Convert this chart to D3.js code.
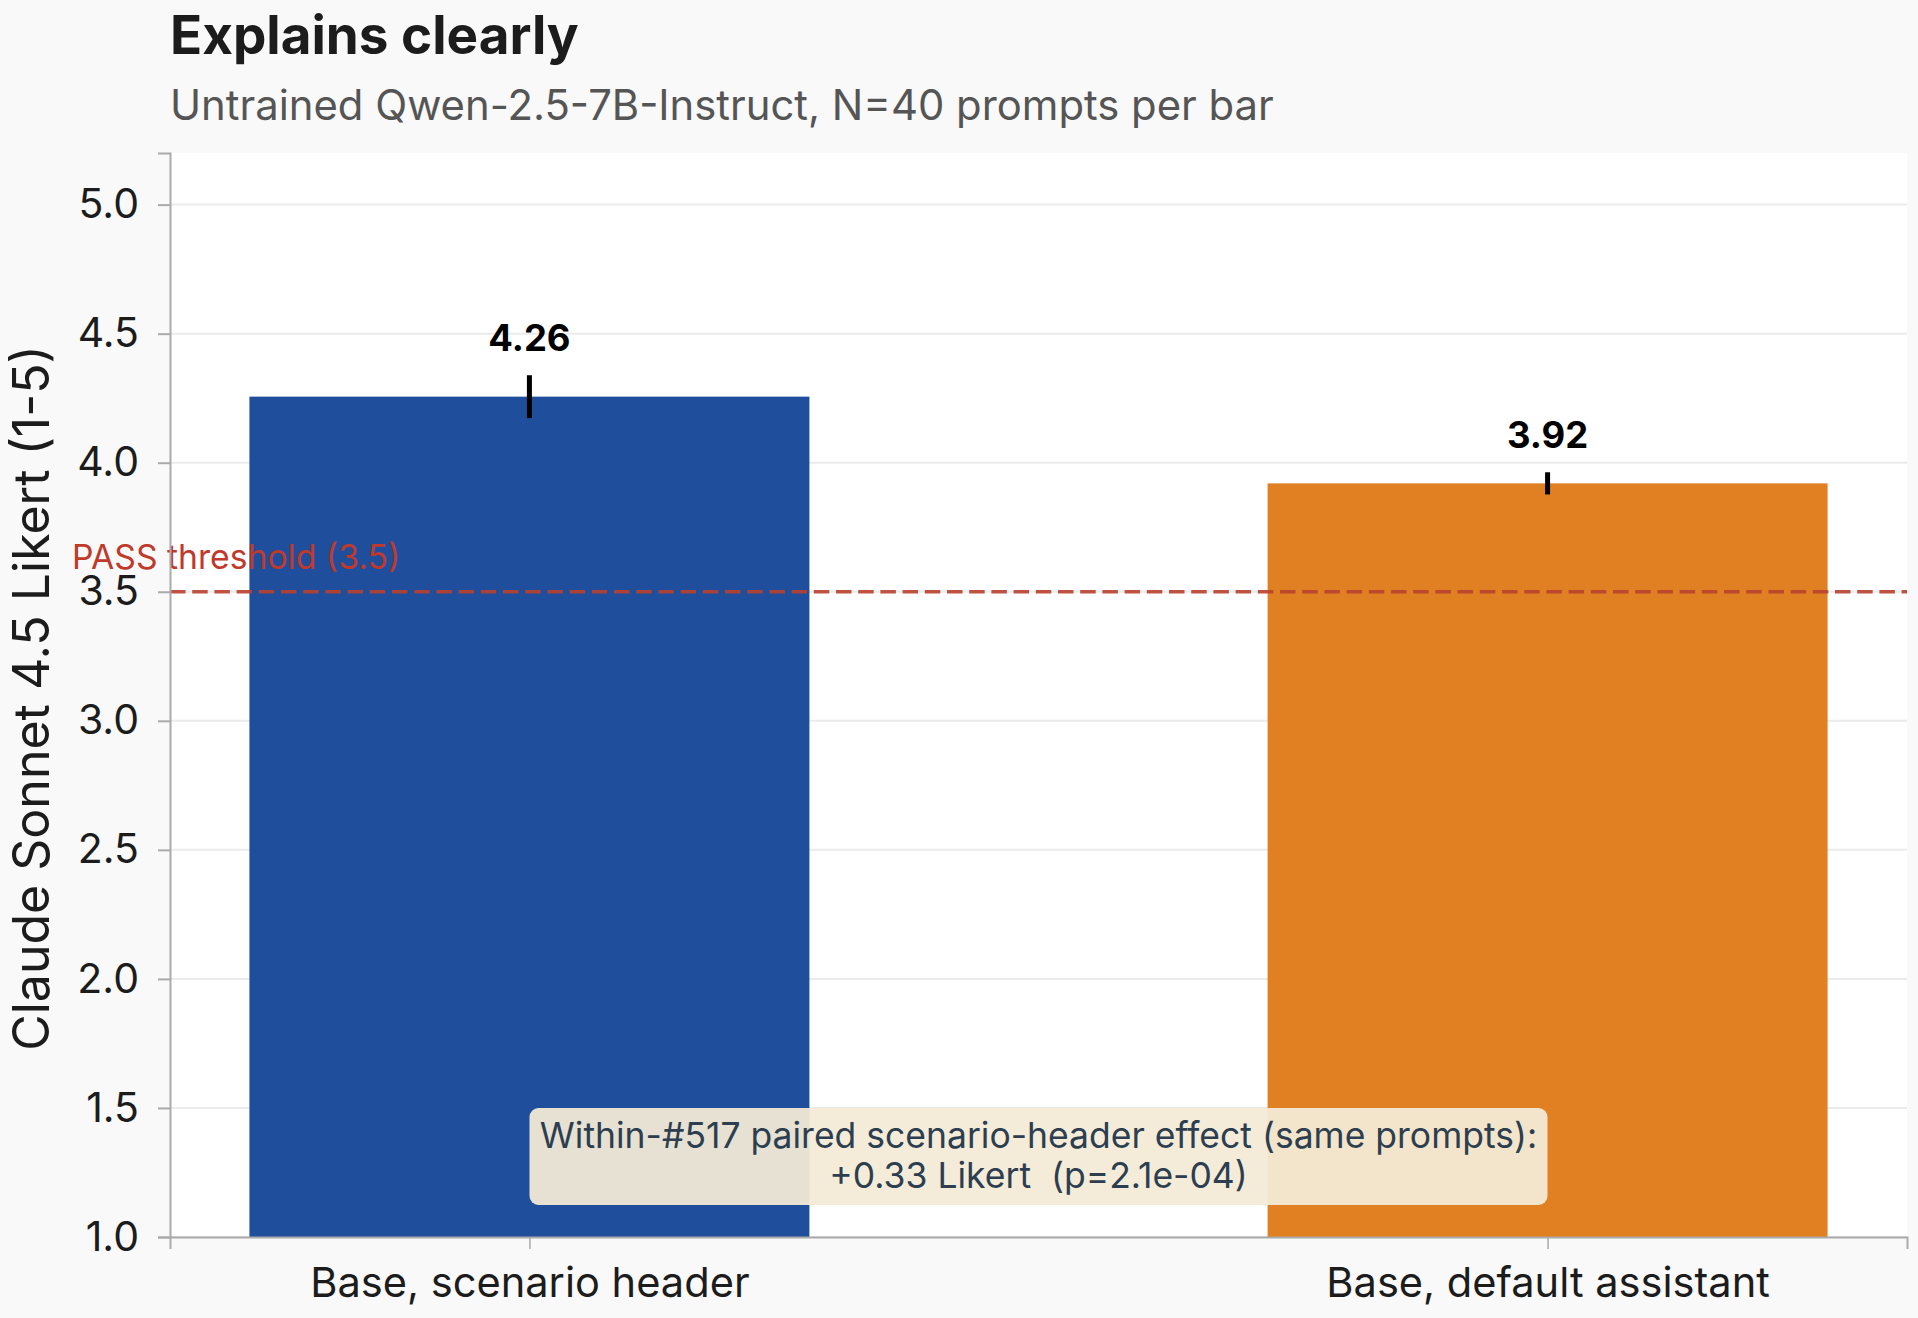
<!DOCTYPE html>
<html>
<head>
<meta charset="utf-8">
<script src="https://cdn.jsdelivr.net/npm/d3@7"></script>
<style>
	body { margin: 0; background: #f9f9f9; }
	svg { display: block; font-family: Inter, "Noto Sans", sans-serif; }
</style>
</head>
<body>
<div id="chart"></div>
<script>
// data
var categories = ["Base, scenario header", "Base, default assistant"];
var means = [4.256, 3.92];
var errors = [0.083, 0.043];
var barColors = ["#1f4e9c", "#e08022"];
var yTicks = [1.0, 1.5, 2.0, 2.5, 3.0, 3.5, 4.0, 4.5, 5.0];
var threshold = 3.5;
var titleText = "Explains clearly";
var subtitleText = "Untrained Qwen-2.5-7B-Instruct, N=40 prompts per bar";
var yLabel = "Claude Sonnet 4.5 Likert (1-5)";
var noteLines = ["Within-#517 paired scenario-header effect (same prompts):", "+0.33 Likert  (p=2.1e-04)"];

var W = 1918, H = 1318;
var margin = {top: 153, right: 11, bottom: 81, left: 170},
	width = W - margin.left - margin.right,
	height = H - margin.top - margin.bottom;

var svg = d3.select("#chart")
	.append("svg")
	.attr("width", W)
	.attr("height", H);

svg.append("rect")
	.attr("width", W)
	.attr("height", H)
	.attr("fill", "#f9f9f9");

// titles
svg.append("text")
	.attr("x", 170)
	.attr("y", 54)
	.attr("font-size", "53px")
	.attr("font-weight", "bold")
	.attr("fill", "#1c1c1c")
	.text(titleText);

svg.append("text")
	.attr("x", 170)
	.attr("y", 120)
	.attr("font-size", "41.8px")
	.attr("fill", "#555555")
	.text(subtitleText);

var g = svg.append("g")
	.attr("transform", "translate(" + margin.left + "," + margin.top + ")");

// plot background
g.append("rect")
	.attr("width", width)
	.attr("height", height)
	.attr("fill", "#ffffff");

// scales
var x = d3.scalePoint()
	.domain(categories)
	.range([0, width])
	.padding(0.353);

var y = d3.scaleLinear()
	.domain([1, 5.2])
	.range([height, 0]);

var barW = x.step() * 0.55;

// grid
g.append("g")
	.selectAll("line")
	.data(yTicks)
	.enter()
	.append("line")
	.attr("x1", 0)
	.attr("x2", width)
	.attr("y1", d => y(d))
	.attr("y2", d => y(d))
	.attr("stroke", "#ebebeb")
	.attr("stroke-width", 2);

// bars
g.append("g")
	.selectAll("rect")
	.data(categories)
	.enter()
	.append("rect")
	.attr("x", d => x(d) - barW / 2)
	.attr("y", (d, i) => y(means[i]))
	.attr("width", barW)
	.attr("height", (d, i) => y(1) - y(means[i]))
	.attr("fill", (d, i) => barColors[i]);

// threshold line
g.append("line")
	.attr("x1", 0)
	.attr("x2", width)
	.attr("y1", y(threshold))
	.attr("y2", y(threshold))
	.attr("stroke", "#b8412f")
	.attr("stroke-opacity", 0.9)
	.attr("stroke-width", 3.5)
	.attr("stroke-dasharray", "15.5,6.7");

g.append("text")
	.attr("x", -98)
	.attr("y", y(threshold) - 23)
	.attr("font-size", "33.7px")
	.attr("fill", "#c0392b")
	.text("PASS threshold (" + threshold + ")");

// error bars
g.append("g")
	.selectAll("line")
	.data(categories)
	.enter()
	.append("line")
	.attr("x1", d => x(d))
	.attr("x2", d => x(d))
	.attr("y1", (d, i) => y(means[i] - errors[i]))
	.attr("y2", (d, i) => y(means[i] + errors[i]))
	.attr("stroke", "#000")
	.attr("stroke-width", 5);

// value labels
g.append("g")
	.selectAll("text")
	.data(categories)
	.enter()
	.append("text")
	.attr("x", d => x(d))
	.attr("y", (d, i) => y(means[i] + errors[i]) - 24)
	.attr("text-anchor", "middle")
	.attr("font-size", "36.5px")
	.attr("font-weight", "bold")
	.attr("fill", "#000")
	.text((d, i) => d3.format(".2f")(means[i]));

// y axis
var yAxis = g.append("g")
	.call(d3.axisLeft(y)
		.tickValues(yTicks)
		.tickFormat(d3.format(".1f"))
		.tickSize(12)
		.tickPadding(19));
yAxis.select(".domain").attr("stroke", "#aaaaaa").attr("stroke-width", 2);
yAxis.selectAll(".tick line").attr("stroke", "#aaaaaa").attr("stroke-width", 2);
yAxis.selectAll(".tick text")
	.attr("font-family", "Inter")
	.attr("font-size", "41px")
	.attr("fill", "#1c1c1c");

// x axis
var xAxis = g.append("g")
	.attr("transform", "translate(0," + height + ")")
	.call(d3.axisBottom(x)
		.tickSize(12)
		.tickPadding(18));
xAxis.select(".domain").attr("stroke", "#aaaaaa").attr("stroke-width", 2);
xAxis.selectAll(".tick line").attr("stroke", "#aaaaaa").attr("stroke-width", 1.5);
xAxis.selectAll(".tick text")
	.attr("font-family", "Inter")
	.attr("font-size", "41.6px")
	.attr("fill", "#1c1c1c");

// y label
svg.append("text")
	.attr("transform", "translate(49," + (margin.top + height / 2 + 3) + ") rotate(-90)")
	.attr("text-anchor", "middle")
	.attr("font-size", "50px")
	.attr("fill", "#1c1c1c")
	.text(yLabel);

// note box
var note = g.append("g")
	.attr("transform", "translate(" + (width / 2) + "," + (height - 81) + ")");

note.append("rect")
	.attr("x", -509)
	.attr("y", -48)
	.attr("width", 1018)
	.attr("height", 97)
	.attr("rx", 9)
	.attr("fill", "#f3ebd6")
	.attr("fill-opacity", 0.94);

note.selectAll("text")
	.data(noteLines)
	.enter()
	.append("text")
	.attr("x", 0)
	.attr("y", (d, i) => -8 + i * 40)
	.attr("text-anchor", "middle")
	.attr("font-size", "35.5px")
	.attr("fill", "#2c3e50")
	.style("white-space", "pre")
	.text(d => d);
</script>
</body>
</html>
